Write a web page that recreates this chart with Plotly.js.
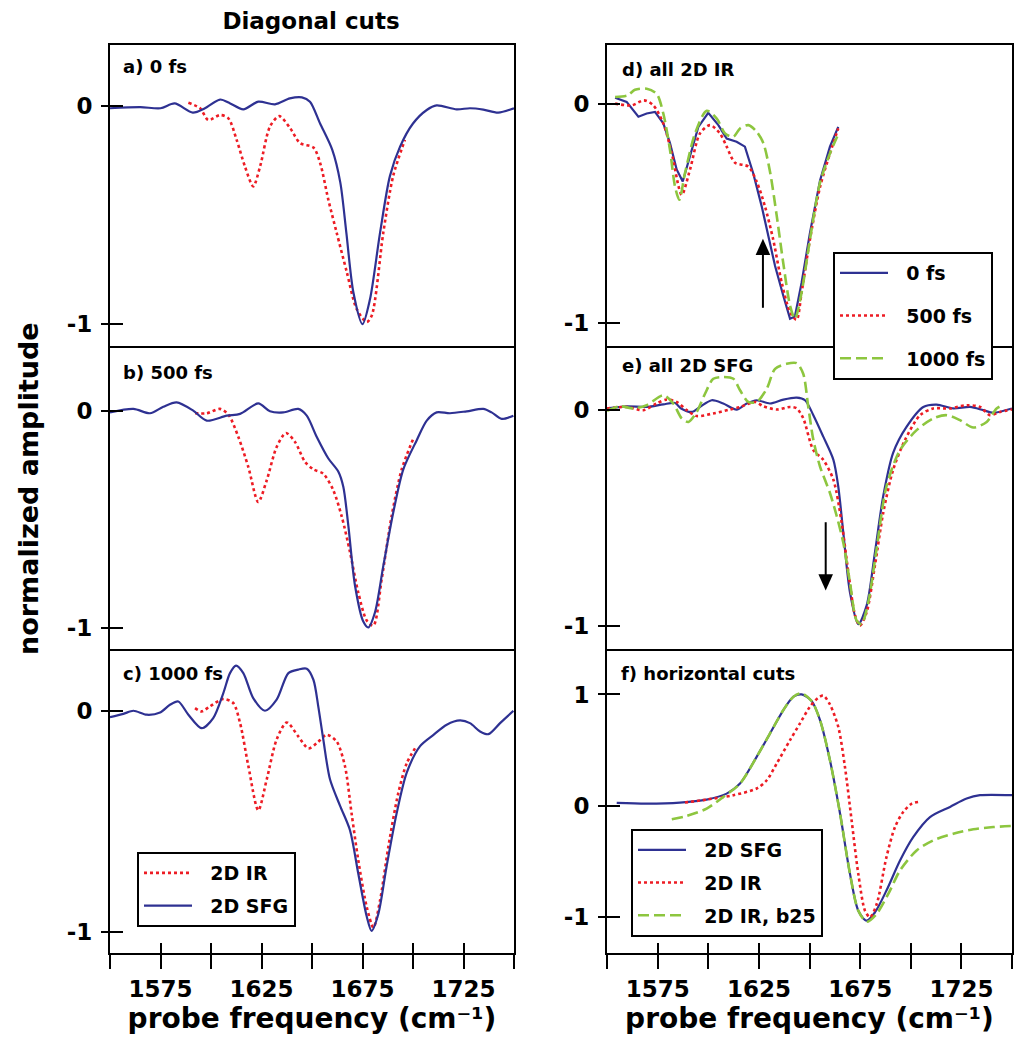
<!DOCTYPE html>
<html>
<head>
<meta charset="utf-8">
<script src="https://cdn.plot.ly/plotly-3.0.1.min.js"></script>
<style>html,body{margin:0;padding:0;background:#fff;}#chart{width:1014px;height:1050px;}</style>
</head>
<body>
<div id="chart"></div>
<script>
// ---------- DATA ----------
// Panel a) 0 fs
const aSfgX = [1550,1565,1575,1582,1591,1597,1604.5,1609.5,1616,1623.4,1631.7,1639,1645,1649,1654,1660,1664,1667,1670.5,1675,1678.7,1683.7,1688.6,1693.6,1700,1706.8,1711.7,1721.6,1728.2,1734.8,1742.2,1750];
const aSfgY = [-0.01,-0.005,-0.01,0.012,-0.03,-0.01,0.03,0.012,-0.015,0.02,0.008,0.035,0.04,0.02,-0.08,-0.20,-0.35,-0.58,-0.855,-1.0,-0.886,-0.58,-0.32,-0.186,-0.08,-0.018,0.003,-0.015,-0.01,-0.016,-0.03,-0.01];
const aIrX = [1588.8,1594.6,1598.7,1604.5,1608.6,1612.7,1616.8,1620.9,1624.3,1629.2,1633.8,1639.1,1644.1,1650.7,1654,1658.1,1662.2,1667.2,1672.1,1677.1,1679.6,1685.3,1690.2,1696];
const aIrY = [0.015,-0.01,-0.064,-0.041,-0.056,-0.155,-0.277,-0.368,-0.277,-0.094,-0.046,-0.10,-0.17,-0.19,-0.26,-0.43,-0.58,-0.76,-0.93,-0.99,-0.96,-0.58,-0.32,-0.155];

// Panel b) 500 fs
const bSfgX = [1550,1561.6,1569.8,1576.4,1583,1591.2,1597.9,1607.8,1614.4,1623.4,1629.2,1635.8,1643.2,1647.4,1652.3,1658.1,1663,1665.5,1668,1671.3,1675.4,1677.9,1681.2,1685.3,1690.2,1695.2,1701.8,1706.8,1711.7,1718.3,1726.6,1734.8,1738.9,1743.9,1749.7];
const bSfgY = [-0.008,0.008,-0.012,0.018,0.038,0,-0.046,-0.023,-0.015,0.033,-0.003,-0.008,0.008,-0.023,-0.12,-0.22,-0.28,-0.35,-0.53,-0.805,-0.97,-0.997,-0.927,-0.714,-0.47,-0.27,-0.137,-0.046,-0.008,-0.012,-0.003,0.008,-0.008,-0.038,-0.023];
const bIrX = [1592.1,1597.9,1604.5,1608.6,1613.5,1618.5,1623.4,1627.6,1632.5,1637.1,1641.6,1646.5,1650.7,1655.6,1660.5,1664.7,1668.8,1672.9,1677.1,1680.4,1684.5,1689.4,1694.4,1700.1];
const bIrY = [-0.012,-0.012,0.008,-0.018,-0.12,-0.26,-0.42,-0.32,-0.167,-0.103,-0.144,-0.235,-0.27,-0.29,-0.365,-0.486,-0.65,-0.836,-0.965,-0.988,-0.775,-0.486,-0.27,-0.13];

// Panel c) 1000 fs
const cSfgX = [1550,1556.6,1561.6,1568.2,1574.8,1579.7,1583.8,1588.8,1595.4,1601.1,1606.1,1609.4,1612.4,1616,1620.9,1626.7,1632.5,1638.3,1643.2,1647.4,1650.7,1653.1,1655.6,1658.9,1663.9,1668.8,1672.9,1677.1,1679.5,1682.8,1686.9,1691.9,1696.9,1703.5,1710,1716.7,1723.3,1728.2,1733.2,1737.3,1743.1,1749.7];
const cSfgY = [-0.029,-0.014,0,-0.018,-0.008,0.027,0.042,-0.018,-0.079,-0.033,0.08,0.17,0.204,0.17,0.057,0,0.05,0.17,0.186,0.19,0.14,0.02,-0.13,-0.31,-0.43,-0.54,-0.736,-0.93,-0.995,-0.92,-0.705,-0.464,-0.28,-0.16,-0.11,-0.063,-0.044,-0.056,-0.094,-0.106,-0.056,0];
const cIrX = [1592.1,1595.4,1599.5,1606.1,1611,1614.4,1618.5,1623.4,1627.6,1632.5,1637.5,1643.2,1648.2,1652.3,1657.3,1662.2,1666.3,1669.6,1672.9,1677.1,1680.4,1683.7,1687.8,1692.7,1696.9,1701];
const cIrY = [0.012,-0.003,0.02,0.053,0.035,-0.056,-0.25,-0.45,-0.31,-0.13,-0.053,-0.116,-0.17,-0.147,-0.109,-0.139,-0.25,-0.464,-0.675,-0.887,-0.98,-0.857,-0.615,-0.373,-0.237,-0.17];

// Panel d) all 2D IR
const d0X = [1554,1559.7,1565.5,1569.6,1573.7,1577.8,1581.1,1584.4,1587.4,1591,1595.1,1600,1605,1609.1,1614,1618.1,1622.2,1626.4,1628.9,1633,1637.1,1640.4,1642.8,1646.1,1650.2,1655.2,1660.1,1664.2];
const d0Y = [0.027,0.008,-0.06,-0.045,-0.038,-0.09,-0.18,-0.30,-0.355,-0.24,-0.106,-0.042,-0.098,-0.159,-0.174,-0.196,-0.317,-0.468,-0.574,-0.74,-0.876,-0.98,-0.97,-0.816,-0.59,-0.35,-0.196,-0.106];
const d500X = [1554,1562.2,1568.3,1572.9,1577.8,1582,1586.9,1591,1595.9,1600.9,1605.8,1609.1,1613.2,1619.8,1623.9,1628,1632.1,1636.3,1640.4,1643.6,1646.1,1650.2,1655.2,1660.1,1664.2];
const d500Y = [0,-0.008,0.015,-0.008,-0.09,-0.227,-0.415,-0.30,-0.136,-0.098,-0.136,-0.196,-0.269,-0.287,-0.355,-0.468,-0.62,-0.816,-0.95,-0.985,-0.86,-0.62,-0.38,-0.227,-0.113];
const d1000X = [1554,1560.3,1563.8,1569.6,1574.5,1577.8,1581.1,1583.6,1585.7,1588.5,1593.5,1599.2,1604.2,1608.3,1612.4,1615.7,1619.8,1623.9,1627.2,1630.5,1633.8,1637.1,1640.4,1642.8,1646.1,1650.2,1655.2,1660.1,1663.7];
const d1000Y = [0.03,0.038,0.063,0.068,0.045,-0.045,-0.21,-0.378,-0.438,-0.317,-0.136,-0.033,-0.068,-0.136,-0.151,-0.113,-0.098,-0.128,-0.18,-0.31,-0.51,-0.73,-0.92,-0.98,-0.86,-0.62,-0.36,-0.227,-0.15];

// Panel e) all 2D SFG
const e0X = [1550,1559.7,1569.6,1577.8,1583.6,1586.6,1591.8,1595.9,1601.7,1607.4,1614,1619,1623.9,1630.5,1637.1,1643.7,1647.8,1651.9,1656.8,1661.8,1664.2,1666.7,1670,1674.1,1678.2,1682.3,1686.4,1691.3,1697.9,1706.2,1712.8,1721,1729.3,1735.8,1740.8,1750];
const e0Y = [0.005,0.015,0.012,0.024,0.03,0.005,-0.011,0.012,0.043,0.028,0,0.028,0.043,0.028,0.046,0.055,0.043,-0.026,-0.125,-0.232,-0.355,-0.569,-0.844,-0.99,-0.905,-0.66,-0.40,-0.20,-0.08,0.012,0.023,0.005,0.012,-0.003,-0.015,0.005];
const e500X = [1550,1559.7,1567.9,1574.5,1579.4,1584.4,1589.4,1594.3,1602.5,1610.7,1615.7,1623.2,1627.2,1633.8,1640.4,1643.7,1646.9,1651.9,1656.8,1661.8,1665.9,1669.2,1672.5,1674.9,1678.2,1682.3,1686.4,1691.3,1697.2,1704.6,1711.1,1719.3,1727.6,1734.2,1739.1,1744.1,1750];
const e500Y = [0.005,0.012,-0.003,0.028,0.046,0.035,-0.003,-0.03,-0.018,0,0.012,0.035,0.015,0,0.012,0.005,-0.04,-0.187,-0.232,-0.324,-0.523,-0.752,-0.95,-0.997,-0.936,-0.72,-0.477,-0.278,-0.14,-0.026,0.005,0.005,0.02,0.012,-0.026,-0.011,0];
const e1000X = [1550,1556.4,1563,1569.6,1577.8,1582.7,1586.9,1590.2,1594.3,1598.4,1602.5,1607.4,1612.4,1615.7,1619.8,1623.9,1628.9,1633,1638.7,1643.7,1646.9,1649.4,1651.9,1655.2,1660.1,1663.4,1666.7,1670,1673.3,1675.7,1679,1683.1,1688,1694.7,1702.9,1711.1,1717.8,1724.3,1730.9,1737.5,1742.4,1745.7];
const e1000Y = [-0.006,0.015,0.005,0.02,0.066,0.028,-0.041,-0.057,-0.011,0.073,0.142,0.15,0.142,0.089,0.035,0.035,0.096,0.188,0.211,0.214,0.165,0.012,-0.14,-0.263,-0.385,-0.49,-0.615,-0.80,-0.974,-0.99,-0.89,-0.645,-0.355,-0.187,-0.095,-0.041,-0.026,-0.049,-0.083,-0.057,0.005,0.02];

// Panel f) horizontal cuts
const fSfgX = [1554.8,1569.6,1586,1599.2,1609.1,1615.7,1623.9,1630.5,1637.1,1642.1,1646.1,1651.1,1655.2,1660.1,1665.1,1670,1674.1,1678.2,1682.3,1688,1694.7,1701.2,1709.5,1719.4,1727.6,1734.2,1750];
const fSfgY = [0.027,0.021,0.03,0.057,0.11,0.20,0.44,0.65,0.86,0.98,1.0,0.94,0.77,0.41,-0.07,-0.61,-0.94,-1.03,-0.956,-0.76,-0.49,-0.28,-0.10,-0.009,0.066,0.096,0.096];
const fIrX = [1588.5,1599.2,1612.4,1623.9,1628.9,1633.8,1640.4,1645.3,1650.2,1654.3,1656.8,1660.1,1664.2,1667.5,1670.8,1674.1,1677.4,1679.9,1683.2,1688,1692.2,1696.3,1700.5,1703.7];
const fIrY = [0.03,0.057,0.096,0.156,0.23,0.38,0.59,0.74,0.89,0.97,0.99,0.91,0.71,0.35,-0.13,-0.61,-0.94,-1.0,-0.88,-0.46,-0.19,-0.054,0.02,0.036];
const fB25X = [1582,1589.4,1599.2,1607.4,1615.7,1623.9,1630.5,1637.1,1642.1,1646.1,1651.1,1655.2,1660.1,1665.1,1670,1674.1,1678.2,1683.1,1688.9,1694.7,1702.9,1711.1,1721,1730.9,1740.8,1750];
const fB25Y = [-0.12,-0.09,-0.024,0.08,0.20,0.44,0.65,0.86,0.98,1.01,0.94,0.77,0.41,-0.07,-0.61,-0.94,-1.04,-0.97,-0.79,-0.58,-0.40,-0.31,-0.25,-0.21,-0.19,-0.18];

const xTickVals = [1575,1625,1675,1725];
const xTickText = ['1575','1625','1675','1725'];
const xMinorVals = [1550,1600,1650,1700,1750];
const panelLabels = ['a) 0 fs','b) 500 fs','c) 1000 fs','d) all 2D IR','e) all 2D SFG','f) horizontal cuts'];
const legendNamesC = ['2D IR','2D SFG'];
const legendNamesD = ['0 fs','500 fs','1000 fs'];
const legendNamesF = ['2D SFG','2D IR','2D IR, b25'];
const xTitle = 'probe frequency (cm\u207B\u00B9)';

// ---------- STYLE ----------
const BLUE = '#2e3192', RED = '#ed1c24', GREEN = '#8dc63f';
const FONT = 'DejaVu Sans, Arial, sans-serif';
const W = 1014, H = 1050;
const px = v => v / W;
const py = v => 1 - v / H;
const pad = s => '\u00a0\u00a0' + s;

const sfg = (x, y, xa, ya, extra) => Object.assign({x, y, xaxis: xa, yaxis: ya, mode: 'lines', type: 'scatter',
  line: {color: BLUE, width: 2.2, shape: 'spline', smoothing: 0.8}, hoverinfo: 'skip', showlegend: false}, extra || {});
const ir = (x, y, xa, ya, extra) => Object.assign({x, y, xaxis: xa, yaxis: ya, mode: 'lines', type: 'scatter',
  line: {color: RED, width: 2.6, dash: 'dot', shape: 'spline', smoothing: 0.8}, hoverinfo: 'skip', showlegend: false}, extra || {});
const grn = (x, y, xa, ya, extra) => Object.assign({x, y, xaxis: xa, yaxis: ya, mode: 'lines', type: 'scatter',
  line: {color: GREEN, width: 2.6, dash: '11px,5px', shape: 'spline', smoothing: 0.8}, hoverinfo: 'skip', showlegend: false}, extra || {});

const traces = [
  ir(aIrX, aIrY, 'x', 'y'), sfg(aSfgX, aSfgY, 'x', 'y'),
  ir(bIrX, bIrY, 'x2', 'y2'), sfg(bSfgX, bSfgY, 'x2', 'y2'),
  ir(cIrX, cIrY, 'x3', 'y3', {name: pad(legendNamesC[0]), showlegend: true, legend: 'legend', legendgroup: 'c1'}),
  sfg(cSfgX, cSfgY, 'x3', 'y3', {name: pad(legendNamesC[1]), showlegend: true, legend: 'legend', legendgroup: 'c2'}),
  sfg(d0X, d0Y, 'x4', 'y4', {name: pad(legendNamesD[0]), showlegend: true, legend: 'legend2', legendgroup: 'd1', line: {color: BLUE, width: 2.2, shape: 'linear'}}),
  ir(d500X, d500Y, 'x4', 'y4', {name: pad(legendNamesD[1]), showlegend: true, legend: 'legend2', legendgroup: 'd2'}),
  grn(d1000X, d1000Y, 'x4', 'y4', {name: pad(legendNamesD[2]), showlegend: true, legend: 'legend2', legendgroup: 'd3'}),
  sfg(e0X, e0Y, 'x5', 'y5'), ir(e500X, e500Y, 'x5', 'y5'), grn(e1000X, e1000Y, 'x5', 'y5'),
  sfg(fSfgX, fSfgY, 'x6', 'y6', {name: pad(legendNamesF[0]), showlegend: true, legend: 'legend3', legendgroup: 'f1'}),
  ir(fIrX, fIrY, 'x6', 'y6', {name: pad(legendNamesF[1]), showlegend: true, legend: 'legend3', legendgroup: 'f2'}),
  grn(fB25X, fB25Y, 'x6', 'y6', {name: pad(legendNamesF[2]), showlegend: true, legend: 'legend3', legendgroup: 'f3'})
];
// empty traces that bring the overlay tick axes (crossing ticks) into existence
const overlayPairs = [['x','y7'],['x2','y8'],['x3','y9'],['x4','y10'],['x5','y11'],['x6','y12'],['x7','y3'],['x8','y6']];
overlayPairs.forEach(p => traces.push({x: [], y: [], xaxis: p[0], yaxis: p[1], type: 'scatter', mode: 'lines', showlegend: false, hoverinfo: 'skip'}));

// ---------- LAYOUT ----------
const colL = [px(110), px(514)], colR = [px(607), px(1012)];
const rows = [[py(346), py(45)], [py(649), py(348)], [py(953), py(651)]];
const yRanges = [[-1.10, 0.28], [-1.096, 0.288], [-1.095, 0.27], [-1.104, 0.267], [-1.105, 0.284], [-1.32, 1.39]];
const tickFont = {family: FONT, size: 23, color: '#000', weight: 700};

function xAxis(domain, anchor, bottom) {
  const a = {domain, anchor, range: [1550, 1750], autorange: false, showgrid: false, zeroline: false,
    showline: true, linecolor: '#000', linewidth: 2, mirror: true, fixedrange: true};
  if (bottom) {
    Object.assign(a, {tickmode: 'array', tickvals: xTickVals, ticktext: xTickText, ticks: 'outside', ticklen: 14,
      tickwidth: 2, tickcolor: '#000', tickfont: tickFont, ticklabelstandoff: 0,
      minor: {tickmode: 'array', tickvals: xMinorVals, ticks: 'outside', ticklen: 14, tickwidth: 2, tickcolor: '#000', showgrid: false},
      title: {text: xTitle, font: {family: FONT, size: 28, color: '#000', weight: 700}, standoff: 8}});
  } else {
    Object.assign(a, {ticks: '', showticklabels: false, tickmode: 'array', tickvals: []});
  }
  return a;
}
function yAxis(domain, anchor, range, f) {
  return {domain, anchor, range, autorange: false, showgrid: false, zeroline: false, showline: true, linecolor: '#000',
    linewidth: 2, mirror: true, tickmode: 'array', tickvals: f ? [-1, 0, 1] : [-1, 0], ticktext: f ? ['-1', '0', '1'] : ['-1', '0'],
    ticks: 'outside', ticklen: 7, tickwidth: 2, tickcolor: '#000', tickfont: tickFont, ticklabelstandoff: 4, fixedrange: true};
}
function yOver(over, anchor, range, f) {
  return {overlaying: over, anchor, range, autorange: false, showgrid: false, zeroline: false, showline: false,
    tickmode: 'array', tickvals: f ? [-1, 0, 1] : [-1, 0], ticks: 'inside', ticklen: 13, tickwidth: 2, tickcolor: '#000',
    showticklabels: false, side: 'left', fixedrange: true};
}
function xOver(over, anchor) {
  return {overlaying: over, anchor, range: [1550, 1750], autorange: false, showgrid: false, zeroline: false, showline: false,
    tickmode: 'array', tickvals: xTickVals.concat(xMinorVals), ticks: 'inside', ticklen: 10, tickwidth: 2, tickcolor: '#000',
    showticklabels: false, side: 'bottom', fixedrange: true};
}

const legendBase = {bgcolor: '#fff', bordercolor: '#000', borderwidth: 2, xanchor: 'left', yanchor: 'top', xref: 'paper', yref: 'paper',
  font: {family: FONT, size: 19, color: '#000', weight: 700}, traceorder: 'grouped', itemwidth: 48};

const annots = [];
const labelPos = [[121, 67], [121, 372], [121, 673], [620, 70], [620, 366], [619, 673]];
panelLabels.forEach((t, i) => annots.push({text: t, xref: 'paper', yref: 'paper', x: px(labelPos[i][0]), y: py(labelPos[i][1]),
  xanchor: 'left', yanchor: 'middle', showarrow: false, font: {family: FONT, size: 18, color: '#000', weight: 700}}));
annots.push({text: 'normalized amplitude', xref: 'paper', yref: 'paper', x: px(28), y: py(489), textangle: -90,
  xanchor: 'center', yanchor: 'middle', showarrow: false, font: {family: FONT, size: 27, color: '#000', weight: 700}});

// arrows (shaft + head)
const shapes = [
  {type: 'line', xref: 'x4', yref: 'y4', x0: 1627, y0: -0.93, x1: 1627, y1: -0.67, line: {color: '#000', width: 2}},
  {type: 'path', xref: 'x4', yref: 'y4', path: 'M1627,-0.615 L1623.4,-0.69 L1630.6,-0.69 Z', fillcolor: '#000', line: {width: 0}},
  {type: 'line', xref: 'x5', yref: 'y5', x0: 1658, y0: -0.52, x1: 1658, y1: -0.78, line: {color: '#000', width: 2}},
  {type: 'path', xref: 'x5', yref: 'y5', path: 'M1658,-0.835 L1654.4,-0.76 L1661.6,-0.76 Z', fillcolor: '#000', line: {width: 0}}
];

const layout = {
  width: W, height: H, autosize: false, margin: {l: 0, r: 0, t: 0, b: 0}, paper_bgcolor: '#fff', plot_bgcolor: 'rgba(0,0,0,0)',
  showlegend: true, hovermode: false,
  title: {text: 'Diagonal cuts', font: {family: FONT, size: 23, color: '#000', weight: 700}, xref: 'paper', yref: 'paper',
    x: px(311), xanchor: 'center', y: py(21), yanchor: 'middle'},
  xaxis: xAxis(colL, 'y', false), yaxis: yAxis(rows[0], 'x', yRanges[0]),
  xaxis2: xAxis(colL, 'y2', false), yaxis2: yAxis(rows[1], 'x2', yRanges[1]),
  xaxis3: xAxis(colL, 'y3', true), yaxis3: yAxis(rows[2], 'x3', yRanges[2]),
  xaxis4: xAxis(colR, 'y4', false), yaxis4: yAxis(rows[0], 'x4', yRanges[3]),
  xaxis5: xAxis(colR, 'y5', false), yaxis5: yAxis(rows[1], 'x5', yRanges[4]),
  xaxis6: xAxis(colR, 'y6', true), yaxis6: yAxis(rows[2], 'x6', yRanges[5], true),
  yaxis7: yOver('y', 'x', yRanges[0]), yaxis8: yOver('y2', 'x2', yRanges[1]), yaxis9: yOver('y3', 'x3', yRanges[2]),
  yaxis10: yOver('y4', 'x4', yRanges[3]), yaxis11: yOver('y5', 'x5', yRanges[4]), yaxis12: yOver('y6', 'x6', yRanges[5], true),
  xaxis7: xOver('x3', 'y3'), xaxis8: xOver('x6', 'y6'),
  legend: Object.assign({}, legendBase, {x: px(137), y: py(852), tracegroupgap: 5}),
  legend2: Object.assign({}, legendBase, {x: px(833), y: py(252), tracegroupgap: 15}),
  legend3: Object.assign({}, legendBase, {x: px(631), y: py(829), tracegroupgap: 5}),
  annotations: annots,
  shapes: shapes
};

Plotly.newPlot('chart', traces, layout, {staticPlot: true, displayModeBar: false});
</script>
</body>
</html>
